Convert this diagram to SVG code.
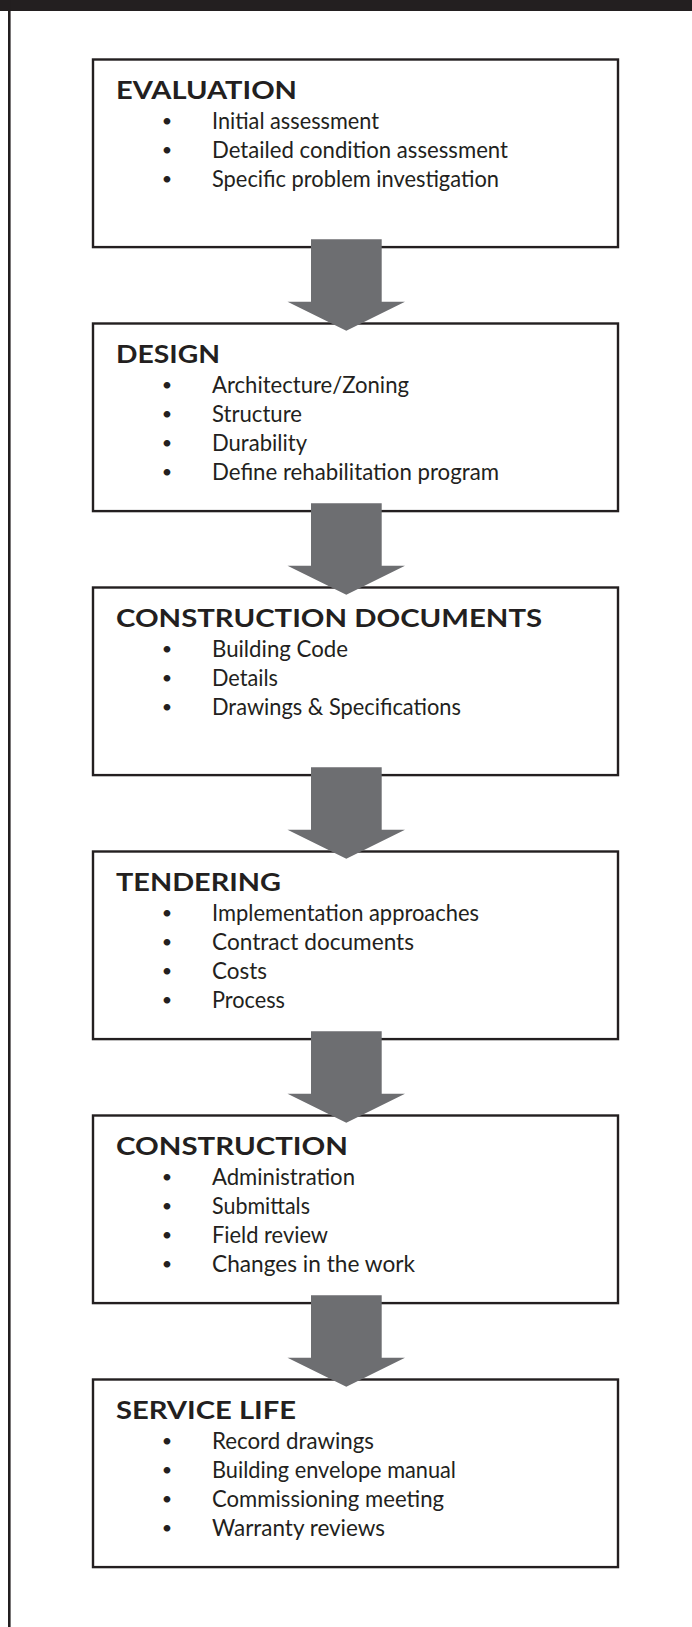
<svg xmlns="http://www.w3.org/2000/svg" width="692" height="1627" viewBox="0 0 692 1627">
<style>
.frame{fill:#231f20}
.box{fill:#ffffff;stroke:#231f20;stroke-width:2.4}
.h{font-family:Lato,"Liberation Sans",sans-serif;font-weight:bold;font-size:25px;fill:#231f20}
.t{font-family:Lato,"Liberation Sans",sans-serif;font-size:23px;fill:#231f20}
.b{font-family:Lato,"Liberation Sans",sans-serif;font-size:18px;fill:#231f20;text-anchor:middle}
.arrow{fill:#6d6e71}
</style>
<rect x="0" y="0" width="692" height="1627" fill="#ffffff"/>
<g id="frame">
<rect class="frame" x="0" y="0" width="692" height="11"/>
<rect class="frame" x="8" y="0" width="2.6" height="1627"/>
</g>
<g id="evaluation" transform="translate(0,58.3)">
<rect class="box" x="93" y="1.2" width="525" height="187.6"/>
<text class="h" x="116" y="41" textLength="181" lengthAdjust="spacingAndGlyphs">EVALUATION</text>
<text class="b" x="167" y="69">•</text><text class="t" x="212" y="71" textLength="167" lengthAdjust="spacingAndGlyphs">Initial assessment</text>
<text class="b" x="167" y="97.8">•</text><text class="t" x="212" y="99.8" textLength="296" lengthAdjust="spacingAndGlyphs">Detailed condition assessment</text>
<text class="b" x="167" y="126.6">•</text><text class="t" x="212" y="128.6" textLength="287" lengthAdjust="spacingAndGlyphs">Specific problem investigation</text>
</g>
<g id="design" transform="translate(0,322.3)">
<rect class="box" x="93" y="1.2" width="525" height="187.6"/>
<text class="h" x="116" y="41" textLength="104" lengthAdjust="spacingAndGlyphs">DESIGN</text>
<text class="b" x="167" y="69">•</text><text class="t" x="212" y="71" textLength="197" lengthAdjust="spacingAndGlyphs">Architecture/Zoning</text>
<text class="b" x="167" y="97.8">•</text><text class="t" x="212" y="99.8" textLength="90" lengthAdjust="spacingAndGlyphs">Structure</text>
<text class="b" x="167" y="126.6">•</text><text class="t" x="212" y="128.6" textLength="95" lengthAdjust="spacingAndGlyphs">Durability</text>
<text class="b" x="167" y="155.4">•</text><text class="t" x="212" y="157.4" textLength="287" lengthAdjust="spacingAndGlyphs">Define rehabilitation program</text>
</g>
<g id="construction-documents" transform="translate(0,586.3)">
<rect class="box" x="93" y="1.2" width="525" height="187.6"/>
<text class="h" x="116" y="41" textLength="426" lengthAdjust="spacingAndGlyphs">CONSTRUCTION DOCUMENTS</text>
<text class="b" x="167" y="69">•</text><text class="t" x="212" y="71" textLength="136" lengthAdjust="spacingAndGlyphs">Building Code</text>
<text class="b" x="167" y="97.8">•</text><text class="t" x="212" y="99.8" textLength="66" lengthAdjust="spacingAndGlyphs">Details</text>
<text class="b" x="167" y="126.6">•</text><text class="t" x="212" y="128.6" textLength="249" lengthAdjust="spacingAndGlyphs">Drawings &amp; Specifications</text>
</g>
<g id="tendering" transform="translate(0,850.3)">
<rect class="box" x="93" y="1.2" width="525" height="187.6"/>
<text class="h" x="116" y="41" textLength="165" lengthAdjust="spacingAndGlyphs">TENDERING</text>
<text class="b" x="167" y="69">•</text><text class="t" x="212" y="71" textLength="267" lengthAdjust="spacingAndGlyphs">Implementation approaches</text>
<text class="b" x="167" y="97.8">•</text><text class="t" x="212" y="99.8" textLength="202" lengthAdjust="spacingAndGlyphs">Contract documents</text>
<text class="b" x="167" y="126.6">•</text><text class="t" x="212" y="128.6" textLength="55" lengthAdjust="spacingAndGlyphs">Costs</text>
<text class="b" x="167" y="155.4">•</text><text class="t" x="212" y="157.4" textLength="73" lengthAdjust="spacingAndGlyphs">Process</text>
</g>
<g id="construction" transform="translate(0,1114.3)">
<rect class="box" x="93" y="1.2" width="525" height="187.6"/>
<text class="h" x="116" y="41" textLength="232" lengthAdjust="spacingAndGlyphs">CONSTRUCTION</text>
<text class="b" x="167" y="69">•</text><text class="t" x="212" y="71" textLength="143" lengthAdjust="spacingAndGlyphs">Administration</text>
<text class="b" x="167" y="97.8">•</text><text class="t" x="212" y="99.8" textLength="98" lengthAdjust="spacingAndGlyphs">Submittals</text>
<text class="b" x="167" y="126.6">•</text><text class="t" x="212" y="128.6" textLength="116" lengthAdjust="spacingAndGlyphs">Field review</text>
<text class="b" x="167" y="155.4">•</text><text class="t" x="212" y="157.4" textLength="203" lengthAdjust="spacingAndGlyphs">Changes in the work</text>
</g>
<g id="service-life" transform="translate(0,1378.3)">
<rect class="box" x="93" y="1.2" width="525" height="187.6"/>
<text class="h" x="116" y="41" textLength="180" lengthAdjust="spacingAndGlyphs">SERVICE LIFE</text>
<text class="b" x="167" y="69">•</text><text class="t" x="212" y="71" textLength="162" lengthAdjust="spacingAndGlyphs">Record drawings</text>
<text class="b" x="167" y="97.8">•</text><text class="t" x="212" y="99.8" textLength="244" lengthAdjust="spacingAndGlyphs">Building envelope manual</text>
<text class="b" x="167" y="126.6">•</text><text class="t" x="212" y="128.6" textLength="232" lengthAdjust="spacingAndGlyphs">Commissioning meeting</text>
<text class="b" x="167" y="155.4">•</text><text class="t" x="212" y="157.4" textLength="173" lengthAdjust="spacingAndGlyphs">Warranty reviews</text>
</g>
<g id="connectors">
<polygon class="arrow" transform="translate(0,248.3)" points="311,-9 381.7,-9 381.7,53.5 405,53.5 346.3,82.5 287.5,53.5 311,53.5"/>
<polygon class="arrow" transform="translate(0,512.3)" points="311,-9 381.7,-9 381.7,53.5 405,53.5 346.3,82.5 287.5,53.5 311,53.5"/>
<polygon class="arrow" transform="translate(0,776.3)" points="311,-9 381.7,-9 381.7,53.5 405,53.5 346.3,82.5 287.5,53.5 311,53.5"/>
<polygon class="arrow" transform="translate(0,1040.3)" points="311,-9 381.7,-9 381.7,53.5 405,53.5 346.3,82.5 287.5,53.5 311,53.5"/>
<polygon class="arrow" transform="translate(0,1304.3)" points="311,-9 381.7,-9 381.7,53.5 405,53.5 346.3,82.5 287.5,53.5 311,53.5"/>
</g>
</svg>
